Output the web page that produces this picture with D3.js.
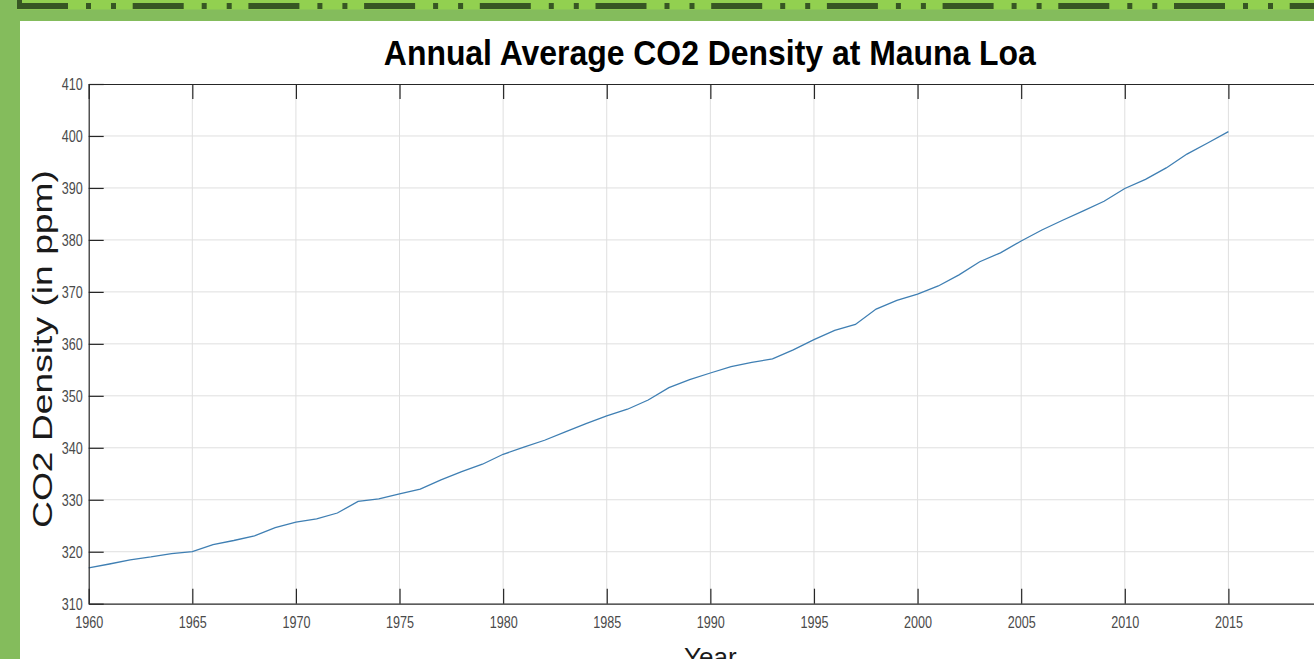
<!DOCTYPE html>
<html><head><meta charset="utf-8">
<script src="https://cdn.jsdelivr.net/npm/d3@7"></script>
<style>html,body{margin:0;padding:0;overflow:hidden;background:#84bc5c}svg{display:block}</style>
</head><body><svg id="c" width="1314" height="659"></svg>
<script>
const years = [1960,1961,1962,1963,1964,1965,1966,1967,1968,1969,1970,1971,1972,1973,1974,1975,1976,1977,1978,1979,1980,1981,1982,1983,1984,1985,1986,1987,1988,1989,1990,1991,1992,1993,1994,1995,1996,1997,1998,1999,2000,2001,2002,2003,2004,2005,2006,2007,2008,2009,2010,2011,2012,2013,2014,2015];
const co2 = [316.91,317.64,318.45,318.99,319.62,320.04,321.38,322.16,323.04,324.62,325.68,326.32,327.45,329.68,330.18,331.11,332.04,333.83,335.40,336.84,338.75,340.11,341.45,343.05,344.65,346.12,347.42,349.19,351.57,353.12,354.39,355.61,356.45,357.10,358.83,360.82,362.61,363.73,366.70,368.38,369.55,371.14,373.28,375.80,377.52,379.80,381.90,383.79,385.60,387.43,389.90,391.65,393.85,396.52,398.65,400.83];
const xTicks = [1960,1965,1970,1975,1980,1985,1990,1995,2000,2005,2010,2015];
const yTicks = [310,320,330,340,350,360,370,380,390,400,410];
const titleText = "Annual Average CO2 Density at Mauna Loa";
const xLabel = "Year";
const yLabel = "CO2 Density (in ppm)";

const svg = d3.select("#c");
// background frame
svg.append("rect").attr("x",0).attr("y",0).attr("width",1314).attr("height",659).attr("fill","#84bc5c");
svg.append("rect").attr("x",17).attr("y",0).attr("width",1297).attr("height",9.5).attr("fill","#92d050");
svg.append("line").attr("x1",17).attr("x2",1314).attr("y1",6).attr("y2",6)
  .attr("stroke","#375623").attr("stroke-width",6)
  .attr("stroke-dasharray","51,18,5,20,5,16.7");
svg.append("rect").attr("x",17).attr("y",0).attr("width",5).attr("height",9).attr("fill","#375623");
svg.append("rect").attr("x",20).attr("y",21).attr("width",1294).attr("height",638).attr("fill","#ffffff");

const L = 88.7, R = 1332, T = 84, B = 603.7;
const x = d3.scaleLinear().domain([1960,2020]).range([L,R]);
const y = d3.scaleLinear().domain([310,410]).range([B,T]);

const font = "'Liberation Sans',Arial,sans-serif";

// grid
const g = svg.append("g");
g.selectAll("line.gx").data(xTicks.slice(1)).join("line")
  .attr("x1",d=>x(d)).attr("x2",d=>x(d)).attr("y1",T).attr("y2",B)
  .attr("stroke","#dfdfdf").attr("stroke-width",1);
g.selectAll("line.gy").data(yTicks.slice(1,-1)).join("line")
  .attr("x1",L).attr("x2",R).attr("y1",d=>y(d)).attr("y2",d=>y(d))
  .attr("stroke","#dfdfdf").attr("stroke-width",1);

// line
svg.append("path").datum(years.map((yr,i)=>[yr,co2[i]]))
  .attr("d", d3.line().x(d=>x(d[0])).y(d=>y(d[1])))
  .attr("fill","none").attr("stroke","#3f7fb3").attr("stroke-width",1.3);

function styleAxis(sel){
  sel.select(".domain").attr("stroke","#262626").attr("stroke-width",1.2);
  sel.selectAll(".tick line").attr("stroke","#262626").attr("stroke-width",1.2);
  sel.selectAll(".tick text").attr("fill","#4a4a4a").style("font-family",font).style("font-size","16px")
    .attr("textLength",function(){return this.textContent.length*7;}).attr("lengthAdjust","spacingAndGlyphs");
}
const ax = svg.append("g").attr("transform",`translate(0,${B})`)
  .call(d3.axisBottom(x).tickValues(xTicks).tickFormat(d3.format("d")).tickSizeInner(-15).tickSizeOuter(0).tickPadding(13));
styleAxis(ax);
const axT = svg.append("g").attr("transform",`translate(0,${T})`)
  .call(d3.axisTop(x).tickValues(xTicks).tickFormat("").tickSizeInner(-15).tickSizeOuter(0));
styleAxis(axT);
const ay = svg.append("g").attr("transform",`translate(${L},0)`)
  .call(d3.axisLeft(y).tickValues(yTicks).tickFormat(d3.format("d")).tickSizeInner(-15).tickSizeOuter(0).tickPadding(6));
styleAxis(ay);
ay.selectAll(".tick text").attr("dy","0.36em");

// title
svg.append("text").attr("x",(L+R)/2 - 0.5).attr("y",65).attr("text-anchor","middle")
  .attr("textLength",652).attr("lengthAdjust","spacingAndGlyphs")
  .style("font-family",font).style("font-weight","bold").style("font-size","35px").attr("fill","#000")
  .text(titleText);
// y label
svg.append("text").attr("transform",`translate(52,349) rotate(-90)`).attr("text-anchor","middle")
  .attr("textLength",358).attr("lengthAdjust","spacingAndGlyphs")
  .style("font-family",font).style("font-size","27px").attr("fill","#1a1a1a")
  .text(yLabel);
// x label (cut off at the bottom edge, as in the reference)
svg.append("text").attr("x",(L+R)/2).attr("y",666).attr("text-anchor","middle")
  .style("font-family",font).style("font-size","26px").attr("fill","#1a1a1a")
  .text(xLabel);
</script></body></html>
